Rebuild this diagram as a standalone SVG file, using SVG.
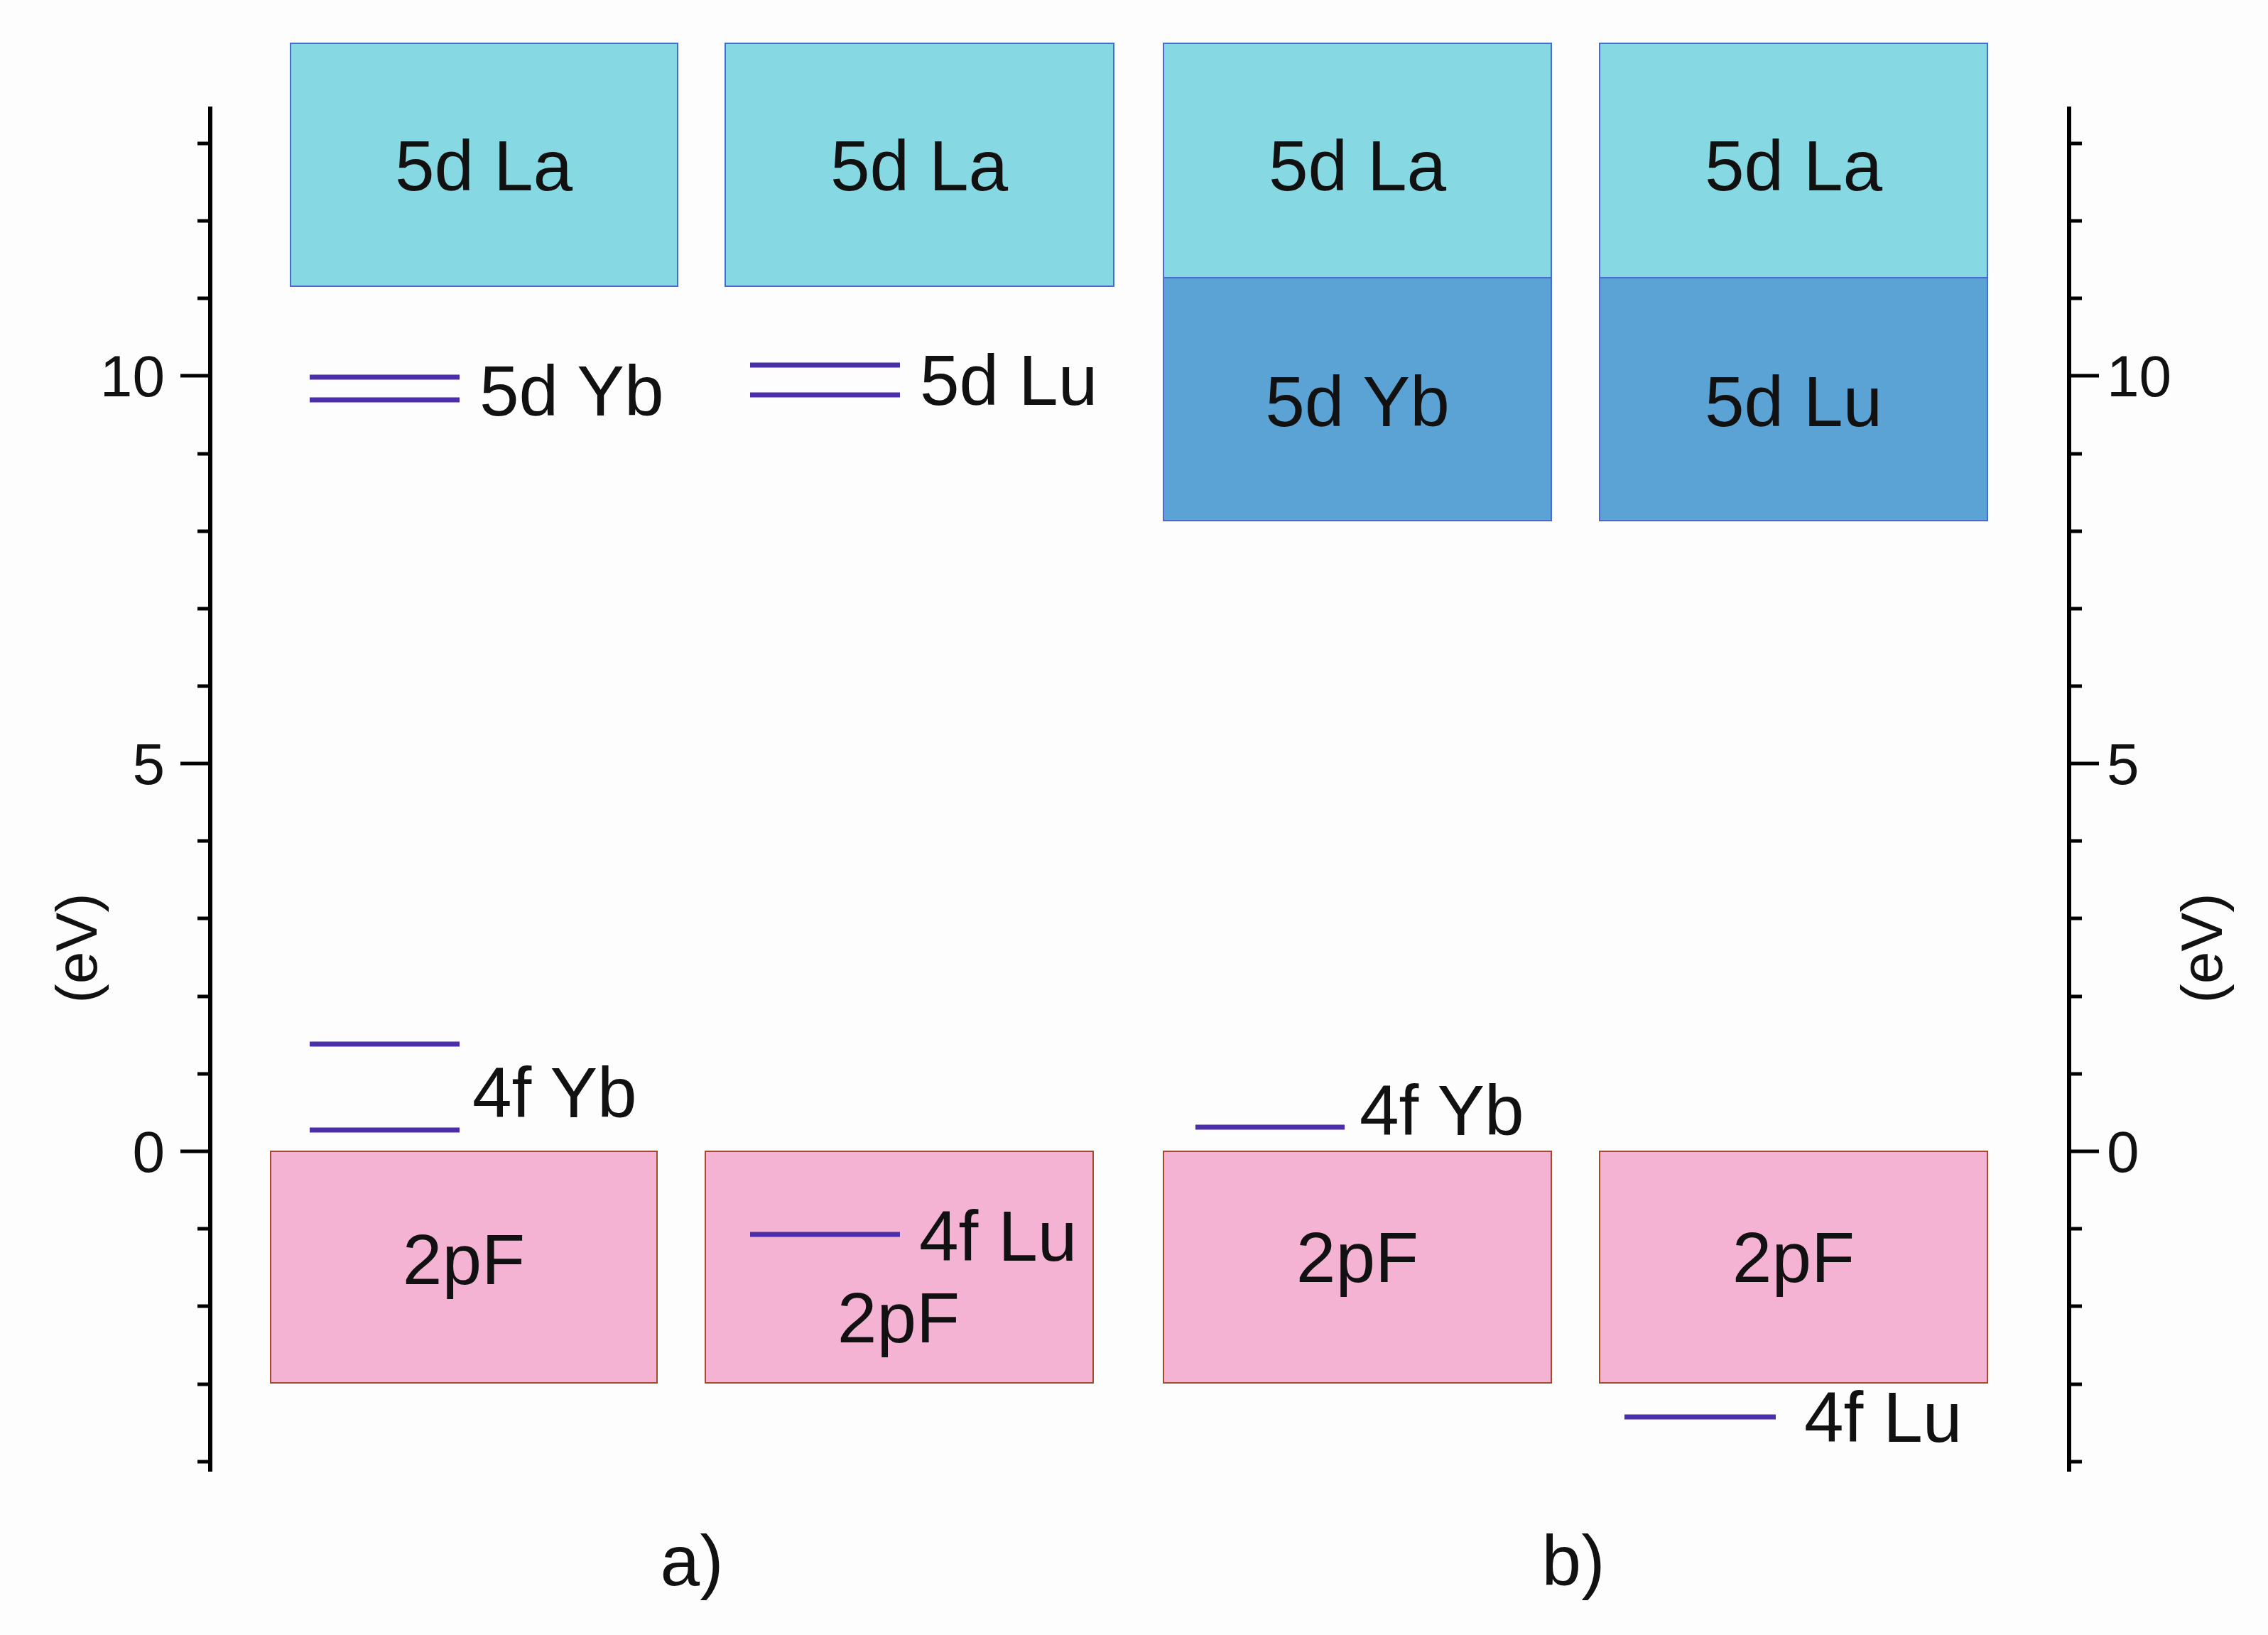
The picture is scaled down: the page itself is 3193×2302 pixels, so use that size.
<svg xmlns="http://www.w3.org/2000/svg" width="3193" height="2302" viewBox="0 0 3193 2302">
<style>
text{font-family:"Liberation Sans",Arial,sans-serif;fill:#111}
.big{font-size:100px}
.num{font-size:82px}
.cy{fill:#86d8e2;stroke:#4a6ad0;stroke-width:2}
.bl{fill:#5aa3d4;stroke:#4a6ad0;stroke-width:2}
.pk{fill:#f5b3d4;stroke:#a04a30;stroke-width:2}
.lv{stroke:#4a2fa8;stroke-width:7}
.ax{stroke:#000;stroke-width:6;fill:none}
.tk{stroke:#000;stroke-width:5}
</style>
<rect width="3193" height="2302" fill="#fdfdfd"/>
<g id="axis-left">
<line class="ax" x1="296" y1="150" x2="296" y2="2072"/>
<g class="tk">
<line x1="278" y1="202" x2="296" y2="202"/><line x1="278" y1="311" x2="296" y2="311"/><line x1="278" y1="420" x2="296" y2="420"/>
<line x1="254" y1="529" x2="296" y2="529"/>
<line x1="278" y1="639" x2="296" y2="639"/><line x1="278" y1="748" x2="296" y2="748"/><line x1="278" y1="857" x2="296" y2="857"/><line x1="278" y1="966" x2="296" y2="966"/>
<line x1="254" y1="1075" x2="296" y2="1075"/>
<line x1="278" y1="1184" x2="296" y2="1184"/><line x1="278" y1="1293" x2="296" y2="1293"/><line x1="278" y1="1403" x2="296" y2="1403"/><line x1="278" y1="1512" x2="296" y2="1512"/>
<line x1="254" y1="1621" x2="296" y2="1621"/>
<line x1="278" y1="1730" x2="296" y2="1730"/><line x1="278" y1="1839" x2="296" y2="1839"/><line x1="278" y1="1949" x2="296" y2="1949"/><line x1="278" y1="2058" x2="296" y2="2058"/>
</g>
<text class="num" x="232" y="558" text-anchor="end">10</text>
<text class="num" x="232" y="1104" text-anchor="end">5</text>
<text class="num" x="232" y="1650" text-anchor="end">0</text>
<text class="num" x="0" y="0" text-anchor="middle" transform="translate(136,1335) rotate(-90)">(eV)</text>
</g>
<g id="axis-right">
<line class="ax" x1="2913" y1="150" x2="2913" y2="2072"/>
<g class="tk">
<line x1="2913" y1="202" x2="2931" y2="202"/><line x1="2913" y1="311" x2="2931" y2="311"/><line x1="2913" y1="420" x2="2931" y2="420"/>
<line x1="2913" y1="529" x2="2955" y2="529"/>
<line x1="2913" y1="639" x2="2931" y2="639"/><line x1="2913" y1="748" x2="2931" y2="748"/><line x1="2913" y1="857" x2="2931" y2="857"/><line x1="2913" y1="966" x2="2931" y2="966"/>
<line x1="2913" y1="1075" x2="2955" y2="1075"/>
<line x1="2913" y1="1184" x2="2931" y2="1184"/><line x1="2913" y1="1293" x2="2931" y2="1293"/><line x1="2913" y1="1403" x2="2931" y2="1403"/><line x1="2913" y1="1512" x2="2931" y2="1512"/>
<line x1="2913" y1="1621" x2="2955" y2="1621"/>
<line x1="2913" y1="1730" x2="2931" y2="1730"/><line x1="2913" y1="1839" x2="2931" y2="1839"/><line x1="2913" y1="1949" x2="2931" y2="1949"/><line x1="2913" y1="2058" x2="2931" y2="2058"/>
</g>
<text class="num" x="2966" y="558">10</text>
<text class="num" x="2966" y="1104">5</text>
<text class="num" x="2966" y="1650">0</text>
<text class="num" x="0" y="0" text-anchor="middle" transform="translate(3128,1335) rotate(-90)">(eV)</text>
</g>
<g id="col1">
<rect class="cy" x="409" y="61" width="545" height="342"/>
<text class="big" x="681" y="268" text-anchor="middle">5d La</text>
<line class="lv" x1="436" y1="531" x2="647" y2="531"/><line class="lv" x1="436" y1="563" x2="647" y2="563"/>
<text class="big" x="675" y="585">5d Yb</text>
<line class="lv" x1="436" y1="1470" x2="647" y2="1470"/><line class="lv" x1="436" y1="1591" x2="647" y2="1591"/>
<text class="big" x="665" y="1573">4f Yb</text>
<rect class="pk" x="381" y="1621" width="544" height="326"/>
<text class="big" x="653" y="1808" text-anchor="middle">2pF</text>
</g>
<g id="col2">
<rect class="cy" x="1021" y="61" width="547" height="342"/>
<text class="big" x="1294" y="268" text-anchor="middle">5d La</text>
<line class="lv" x1="1056" y1="514" x2="1267" y2="514"/><line class="lv" x1="1056" y1="556" x2="1267" y2="556"/>
<text class="big" x="1295" y="570">5d Lu</text>
<rect class="pk" x="993" y="1621" width="546" height="326"/>
<line class="lv" x1="1056" y1="1738" x2="1267" y2="1738"/>
<text class="big" x="1294" y="1775">4f Lu</text>
<text class="big" x="1265" y="1890" text-anchor="middle">2pF</text>
</g>
<g id="col3">
<rect class="cy" x="1638" y="61" width="546" height="330"/>
<text class="big" x="1911" y="268" text-anchor="middle">5d La</text>
<rect class="bl" x="1638" y="391" width="546" height="342"/>
<text class="big" x="1911" y="600" text-anchor="middle">5d Yb</text>
<line class="lv" x1="1683" y1="1587" x2="1893" y2="1587"/>
<text class="big" x="1914" y="1598">4f Yb</text>
<rect class="pk" x="1638" y="1621" width="546" height="326"/>
<text class="big" x="1911" y="1805" text-anchor="middle">2pF</text>
</g>
<g id="col4">
<rect class="cy" x="2252" y="61" width="546" height="330"/>
<text class="big" x="2525" y="268" text-anchor="middle">5d La</text>
<rect class="bl" x="2252" y="391" width="546" height="342"/>
<text class="big" x="2525" y="600" text-anchor="middle">5d Lu</text>
<rect class="pk" x="2252" y="1621" width="546" height="326"/>
<text class="big" x="2525" y="1805" text-anchor="middle">2pF</text>
<line class="lv" x1="2287" y1="1995" x2="2500" y2="1995"/>
<text class="big" x="2540" y="2030">4f Lu</text>
</g>
<g id="labels">
<text class="big" x="974" y="2232" text-anchor="middle">a)</text>
<text class="big" x="2215" y="2232" text-anchor="middle">b)</text>
</g>
</svg>
